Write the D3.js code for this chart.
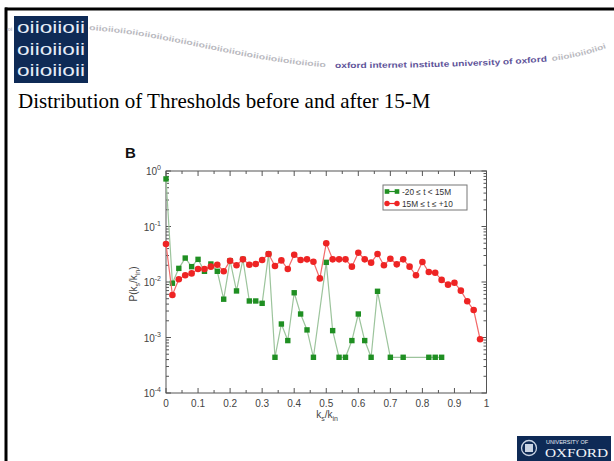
<!DOCTYPE html>
<html><head><meta charset="utf-8">
<script src="https://cdn.jsdelivr.net/npm/d3@7"></script>
<style>html,body{margin:0;padding:0;background:#fff;overflow:hidden}svg{display:block}</style>
</head><body>
<svg id="c" width="614" height="461"></svg>
<script>
// ---- data ----
const title = "Distribution of Thresholds before and after 15-M";
const seriesNames = ["-20 \u2264 t < 15M", "15M \u2264 t \u2264 +10"];
const greenX = [0,0.02,0.04,0.06,0.08,0.10,0.12,0.14,0.16,0.18,0.20,0.22,0.24,0.26,0.28,0.30,0.32,0.34,0.36,0.38,0.40,0.42,0.44,0.46,0.50,0.52,0.54,0.56,0.58,0.60,0.62,0.64,0.66,0.70,0.74,0.82,0.84,0.86];
const greenY = [0.72,0.0095,0.0176,0.027,0.0189,0.0256,0.0156,0.0211,0.0156,0.0049,0.0242,0.0069,0.0256,0.00455,0.00455,0.00413,0.032,0.00044,0.00175,0.00088,0.0064,0.00265,0.00137,0.00044,0.0226,0.00133,0.00044,0.00044,0.00088,0.00265,0.00088,0.00044,0.0068,0.00044,0.00044,0.00044,0.00044,0.00044];
const redX = [0,0.02,0.04,0.06,0.08,0.10,0.12,0.14,0.16,0.18,0.20,0.22,0.24,0.26,0.28,0.30,0.32,0.34,0.36,0.38,0.40,0.42,0.44,0.46,0.48,0.50,0.52,0.54,0.56,0.58,0.60,0.62,0.64,0.66,0.68,0.70,0.72,0.74,0.76,0.78,0.80,0.82,0.84,0.86,0.88,0.90,0.92,0.94,0.96,0.98];
const redY = [0.0484,0.00583,0.0112,0.0132,0.0143,0.0171,0.0171,0.0189,0.0205,0.0156,0.0242,0.02,0.0256,0.0205,0.0211,0.0249,0.032,0.0194,0.0245,0.0171,0.031,0.0249,0.0256,0.0232,0.0116,0.0498,0.0256,0.0256,0.0256,0.0189,0.0337,0.0256,0.0223,0.032,0.02,0.0263,0.0208,0.0256,0.0189,0.0132,0.0229,0.0151,0.0147,0.0109,0.00895,0.0097,0.00698,0.00449,0.00313,0.00093];
const xTicks = [0,0.1,0.2,0.3,0.4,0.5,0.6,0.7,0.8,0.9,1];
const xTickLabels = ["0","0.1","0.2","0.3","0.4","0.5","0.6","0.7","0.8","0.9","1"];
const yTicks = [1e-4,1e-3,1e-2,1e-1,1];
const yTickExps = ["-4","-3","-2","-1","0"];

const svg = d3.select("#c");
const F = "Liberation Sans, Arial, sans-serif";

// ---- slide frame ----
svg.append("rect").attr("x",0).attr("y",0).attr("width",614).attr("height",461).attr("fill","#fff");
svg.append("rect").attr("x",5).attr("y",7.5).attr("width",609).attr("height",3).attr("fill","#000");
svg.append("rect").attr("x",4.5).attr("y",7.5).attr("width",3).attr("height",454).attr("fill","#000");

// ---- header logo ----
svg.append("rect").attr("x",14).attr("y",16).attr("width",74).attr("height",67).attr("fill","#0e2a56");
const logoT = svg.append("text").attr("font-family",F).attr("font-size",17).attr("fill","#e4ecf7");
["oiioiioii","oiioiioii","oiioiioii"].forEach((t,i)=>{
  logoT.append("tspan").attr("x",17).attr("y",33+i*21.5).attr("textLength",68)
    .attr("lengthAdjust","spacingAndGlyphs").text(t);
});
// wavy banner
const defs = svg.append("defs");
defs.append("path").attr("id","w1").attr("d","M89,30 C170,35 240,62 335,68");
defs.append("path").attr("id","w2").attr("d","M335,68 C420,68 500,66 552,61");
defs.append("path").attr("id","w3").attr("d","M552,61 C575,58 595,53 614,45");
const trail = "oiioiioiioiioiioiioiioiioiioiioiioiioiioiioiioiioiioiioiioiioiioiioiioiioii";
svg.append("text").attr("font-family",F).attr("font-size",7.5).attr("font-weight","bold").attr("fill","#b9b9c0")
  .append("textPath").attr("href","#w1").attr("textLength",240).attr("lengthAdjust","spacingAndGlyphs").text(trail.slice(0,58));
svg.append("text").attr("font-family",F).attr("font-size",7.5).attr("font-weight","bold").attr("fill","#b9b9c0")
  .append("textPath").attr("href","#w3").attr("textLength",56).attr("lengthAdjust","spacingAndGlyphs").text(trail.slice(0,14));
svg.append("text").attr("x",7.5).attr("y",31).attr("font-family",F).attr("font-size",5.5).attr("font-weight","bold")
  .attr("fill","#b9b9c0").text("oi");
svg.append("text").attr("font-family",F).attr("font-size",8).attr("font-weight","bold").attr("fill","#5e5399")
  .append("textPath").attr("href","#w2").attr("textLength",212).attr("lengthAdjust","spacingAndGlyphs")
  .text("oxford internet institute university of oxford");

// ---- title ----
svg.append("text").attr("x",18).attr("y",108).attr("font-family","Liberation Serif, Times New Roman, serif")
  .attr("font-size",21).attr("fill","#000").text(title);

// ---- chart ----
const x = d3.scaleLinear().domain([0,1]).range([166,486.5]);
const y = d3.scaleLog().domain([1e-4,1]).range([393,171]);
const axCol = "#555";
const g = svg.append("g");

svg.append("text").attr("x",125).attr("y",158).attr("font-family",F).attr("font-weight","bold")
  .attr("font-size",15).attr("fill","#111").text("B");

// frame
g.append("rect").attr("x",x(0)).attr("y",y(1)).attr("width",x(1)-x(0)).attr("height",y(1e-4)-y(1))
  .attr("fill","none").attr("stroke",axCol).attr("stroke-width",1);

// x ticks (major + minor), bottom and top, inward
const xMinor = d3.range(0.05,1,0.1);
xTicks.forEach(v=>{
  g.append("line").attr("x1",x(v)).attr("x2",x(v)).attr("y1",y(1e-4)).attr("y2",y(1e-4)-5).attr("stroke",axCol);
  g.append("line").attr("x1",x(v)).attr("x2",x(v)).attr("y1",y(1)).attr("y2",y(1)+5).attr("stroke",axCol);
});
xMinor.forEach(v=>{
  g.append("line").attr("x1",x(v)).attr("x2",x(v)).attr("y1",y(1e-4)).attr("y2",y(1e-4)-3).attr("stroke",axCol);
  g.append("line").attr("x1",x(v)).attr("x2",x(v)).attr("y1",y(1)).attr("y2",y(1)+3).attr("stroke",axCol);
});
xTicks.forEach((v,i)=>{
  g.append("text").attr("x",x(v)).attr("y",407).attr("text-anchor","middle").attr("font-family",F)
    .attr("font-size",10).attr("fill","#444").text(xTickLabels[i]);
});

// y ticks (log), left and right
const yMinor = [];
for (let d=-4; d<0; d++) for (let m=2; m<=9; m++) yMinor.push(m*Math.pow(10,d));
yTicks.forEach(v=>{
  g.append("line").attr("x1",x(0)).attr("x2",x(0)+5).attr("y1",y(v)).attr("y2",y(v)).attr("stroke",axCol);
  g.append("line").attr("x1",x(1)).attr("x2",x(1)-5).attr("y1",y(v)).attr("y2",y(v)).attr("stroke",axCol);
});
yMinor.forEach(v=>{
  g.append("line").attr("x1",x(0)).attr("x2",x(0)+3).attr("y1",y(v)).attr("y2",y(v)).attr("stroke",axCol);
  g.append("line").attr("x1",x(1)).attr("x2",x(1)-3).attr("y1",y(v)).attr("y2",y(v)).attr("stroke",axCol);
});
yTicks.forEach((v,i)=>{
  const t = g.append("text").attr("x",161).attr("y",y(v)+4).attr("text-anchor","end").attr("font-family",F)
    .attr("font-size",10).attr("fill","#444");
  t.append("tspan").text("10");
  t.append("tspan").attr("dy",-5).attr("font-size",7).text(yTickExps[i]);
});

// axis titles
const xt = g.append("text").attr("x",327).attr("y",418).attr("text-anchor","middle").attr("font-family",F)
  .attr("font-size",10).attr("fill","#444");
xt.append("tspan").text("k");
xt.append("tspan").attr("dy",3).attr("font-size",7).text("s");
xt.append("tspan").attr("dy",-3).text("/k");
xt.append("tspan").attr("dy",3).attr("font-size",7).text("in");
const yt = g.append("text").attr("transform","translate(137,284) rotate(-90)").attr("text-anchor","middle")
  .attr("font-family",F).attr("font-size",10).attr("fill","#444");
yt.append("tspan").text("P(k");
yt.append("tspan").attr("dy",3).attr("font-size",7).text("s");
yt.append("tspan").attr("dy",-3).text("/k");
yt.append("tspan").attr("dy",3).attr("font-size",7).text("in");
yt.append("tspan").attr("dy",-3).text(")");

// series
const gCol = "#1f8f22", gLine = "#9cc49c", rCol = "#ee2424", rLine = "#f26a6a";
const line = d3.line().x(d=>x(d[0])).y(d=>y(d[1]));
const green = greenX.map((v,i)=>[v,greenY[i]]);
const red = redX.map((v,i)=>[v,redY[i]]);
g.append("path").datum(green).attr("d",line).attr("fill","none").attr("stroke",gLine).attr("stroke-width",1.2);
g.selectAll(".gs").data(green).enter().append("rect").attr("x",d=>x(d[0])-2.7).attr("y",d=>y(d[1])-2.7)
  .attr("width",5.4).attr("height",5.4).attr("fill",gCol);
g.append("path").datum(red).attr("d",line).attr("fill","none").attr("stroke",rLine).attr("stroke-width",1.2);
g.selectAll(".rc").data(red).enter().append("circle").attr("cx",d=>x(d[0])).attr("cy",d=>y(d[1]))
  .attr("r",3.3).attr("fill",rCol);

// legend
const lg = g.append("g");
lg.append("rect").attr("x",383).attr("y",185).attr("width",84).attr("height",25).attr("fill","#fff")
  .attr("stroke","#777").attr("stroke-width",1);
[[gCol,gLine,"sq"],[rCol,rLine,"ci"]].forEach((s,i)=>{
  const yy = 191.5 + i*12;
  lg.append("line").attr("x1",387).attr("x2",397).attr("y1",yy).attr("y2",yy).attr("stroke",s[0]).attr("stroke-width",1.2);
  [387,397].forEach(xx=>{
    if (s[2]==="sq") lg.append("rect").attr("x",xx-2.3).attr("y",yy-2.3).attr("width",4.6).attr("height",4.6).attr("fill",s[0]);
    else lg.append("circle").attr("cx",xx).attr("cy",yy).attr("r",2.7).attr("fill",s[0]);
  });
  lg.append("text").attr("x",402).attr("y",yy+3).attr("font-family",F).attr("font-size",8.3)
    .attr("fill","#333").text(seriesNames[i]);
});

// ---- Oxford logo ----
svg.append("rect").attr("x",517).attr("y",436).attr("width",94).attr("height",25).attr("fill","#0e2a56");
svg.append("circle").attr("cx",529).attr("cy",448).attr("r",7.5).attr("fill","none").attr("stroke","#c9d3e3").attr("stroke-width",1.3);
svg.append("rect").attr("x",525).attr("y",444).attr("width",8).attr("height",8).attr("fill","#c9d3e3");
svg.append("text").attr("x",546).attr("y",444).attr("font-family",F).attr("font-size",5.5).attr("fill","#e6ecf5")
  .text("UNIVERSITY OF");
svg.append("text").attr("x",545).attr("y",457).attr("font-family","Liberation Serif, Times New Roman, serif")
  .attr("font-size",13).attr("fill","#f2f5fa").attr("textLength",63).attr("lengthAdjust","spacingAndGlyphs").text("OXFORD");
</script>
</body></html>
